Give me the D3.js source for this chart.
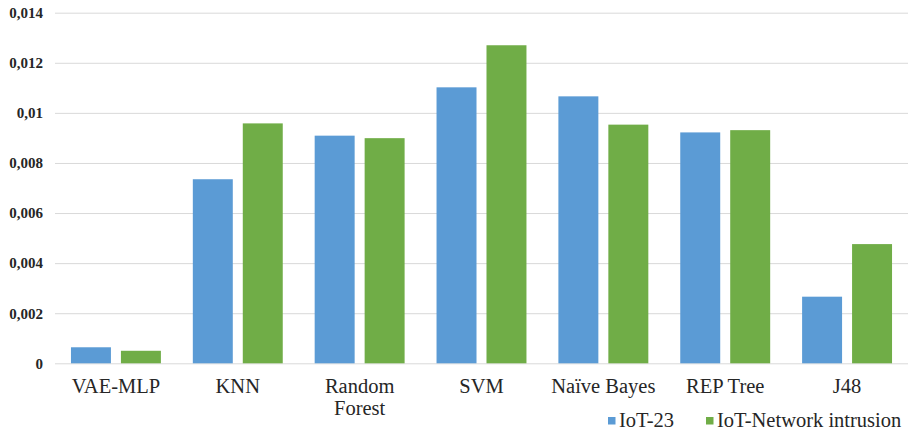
<!DOCTYPE html>
<html>
<head>
<meta charset="utf-8">
<script src="https://cdn.jsdelivr.net/npm/d3@7"></script>
<style>
  html, body { margin: 0; padding: 0; background: #fff; }
  svg { display: block; }
  svg text { font-family: "Liberation Serif", "Times New Roman", serif; }
</style>
</head>
<body>
<svg id="chart" width="914" height="434"></svg>
<script>
const categories = ["VAE-MLP", "KNN", "Random\nForest", "SVM", "Naïve Bayes", "REP Tree", "J48"];
const seriesNames = ["IoT-23", "IoT-Network intrusion"];
const iot23 = [0.00064, 0.00735, 0.00909, 0.01102, 0.01066, 0.00922, 0.00266];
const iotNetwork = [0.00050, 0.00958, 0.00899, 0.01270, 0.00953, 0.00931, 0.00476];
const yTicks = [0, 0.002, 0.004, 0.006, 0.008, 0.01, 0.012, 0.014];
const colors = ["#5b9bd5", "#70ad47"];

(function () {
const svg = d3.select("#chart");
const mLeft = 55, mRight = 908, mTop = 12.7, mBottom = 363.3;

const x0 = d3.scaleBand().domain(categories).range([mLeft, mRight])
  .paddingInner(0.262).paddingOuter(0.131);
const x1 = d3.scaleBand().domain(seriesNames).range([0, x0.bandwidth()])
  .paddingInner(0.2).paddingOuter(0);
const y = d3.scaleLinear().domain([0, 0.014]).range([mBottom, mTop]);
const color = d3.scaleOrdinal().domain(seriesNames).range(colors);

const fmt = v => v === 0 ? "0" : String(+v.toFixed(3)).replace(".", ",");

// gridlines
svg.append("g")
  .attr("transform", `translate(${mLeft},0)`)
  .call(d3.axisLeft(y).tickValues(yTicks).tickSize(-(mRight - mLeft)).tickFormat(""))
  .call(g => g.select(".domain").remove())
  .call(g => g.selectAll("line").attr("stroke", "#d9d9d9").attr("stroke-width", 1));

// y labels
svg.append("g")
  .attr("transform", `translate(${mLeft - 12},0)`)
  .call(d3.axisLeft(y).tickValues(yTicks).tickSize(0).tickPadding(0).tickFormat(fmt))
  .call(g => g.select(".domain").remove())
  .call(g => g.attr("font-family", null).attr("font-size", null))
  .call(g => g.selectAll("text")
    .style("font-size", "15px").style("font-weight", "bold").attr("fill", "#262626"));

// bars
const rows = categories.map((c, i) => ({ cat: c, vals: [
  { s: seriesNames[0], v: iot23[i] },
  { s: seriesNames[1], v: iotNetwork[i] }
]}));

svg.append("g").selectAll("g").data(rows).join("g")
  .attr("transform", d => `translate(${x0(d.cat)},0)`)
  .selectAll("rect").data(d => d.vals).join("rect")
  .attr("x", d => x1(d.s))
  .attr("width", x1.bandwidth())
  .attr("y", d => y(d.v))
  .attr("height", d => y(0) - y(d.v))
  .attr("fill", d => color(d.s));

// x labels
const xl = svg.append("g");
categories.forEach(c => {
  const lines = c.split("\n");
  const cx = x0(c) + x0.bandwidth() / 2;
  const t = xl.append("text")
    .attr("x", cx)
    .attr("y", 393)
    .attr("text-anchor", "middle")
    .style("font-size", "20.5px").attr("fill", "#262626");
  lines.forEach((ln, i) => {
    t.append("tspan").attr("x", cx).attr("dy", i === 0 ? 0 : 22).text(ln);
  });
});

// legend
const legendPos = [608, 706];
const leg = svg.append("g");
seriesNames.forEach((s, i) => {
  const g = leg.append("g").attr("transform", `translate(${legendPos[i]},0)`);
  g.append("rect").attr("x", 0).attr("y", 417).attr("width", 7.5).attr("height", 7.5).attr("fill", color(s));
  g.append("text").attr("x", 11).attr("y", 427)
    .style("font-size", "20.5px").attr("fill", "#262626").text(s);
});
})();
</script>
</body>
</html>
